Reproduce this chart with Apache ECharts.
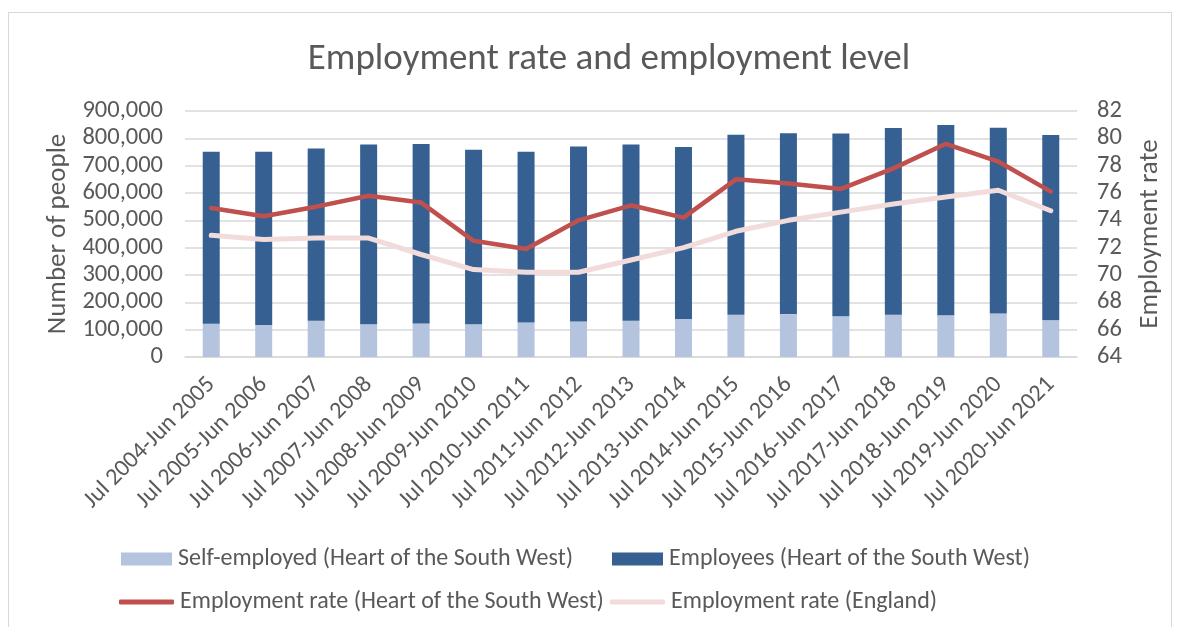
<!DOCTYPE html>
<html>
<head>
<meta charset="utf-8">
<script src="https://cdn.jsdelivr.net/npm/echarts@6/dist/echarts.min.js"></script>
<style>
html,body{margin:0;padding:0;background:#fff;}
#frame{position:absolute;left:8px;top:12px;width:1164px;height:640px;border:1px solid #D9D9D9;box-sizing:border-box;}
#chart{position:absolute;left:0;top:0;width:1182px;height:627px;}
</style>
</head>
<body>
<div id="frame"></div>
<div id="chart"></div>
<script>
const categories = ["Jul 2004-Jun 2005","Jul 2005-Jun 2006","Jul 2006-Jun 2007","Jul 2007-Jun 2008","Jul 2008-Jun 2009","Jul 2009-Jun 2010","Jul 2010-Jun 2011","Jul 2011-Jun 2012","Jul 2012-Jun 2013","Jul 2013-Jun 2014","Jul 2014-Jun 2015","Jul 2015-Jun 2016","Jul 2016-Jun 2017","Jul 2017-Jun 2018","Jul 2018-Jun 2019","Jul 2019-Jun 2020","Jul 2020-Jun 2021"];
const selfEmployed = [122000,117000,133000,120000,123000,120000,126000,130000,133000,139000,155000,157000,149000,155000,153000,159000,134000];
const employees = [629000,634000,630000,657000,656000,638000,625000,640000,644000,629000,658000,662000,669000,683000,696000,680000,678000];
const rateHotSW = [74.9,74.3,75.0,75.8,75.3,72.5,71.9,74.0,75.1,74.2,77.0,76.7,76.3,77.8,79.6,78.3,76.1];
const rateEngland = [72.9,72.6,72.7,72.7,71.5,70.4,70.2,70.2,71.1,72.0,73.2,74.0,74.6,75.2,75.7,76.2,74.7];
const leftTicks = {min:0,max:900000,interval:100000};
const rightTicks = {min:64,max:82,interval:2};
const names = ['Self-employed (Heart of the South West)','Employees (Heart of the South West)',
  'Employment rate (Heart of the South West)','Employment rate (England)'];

const FONT = 'Carlito, "Open Sans", sans-serif';
const TXT = '#595959';
const legTxt = {fontFamily:FONT,fontSize:24,color:TXT,padding:[0,0,0,1]};
function leg(name,left,top,isLine,color){
  const o = {data:[isLine?{name:name,itemStyle:{color:color}}:name],left:left,top:top,padding:0,
    itemWidth:isLine?55:51,itemHeight:isLine?5:13,icon:isLine?'roundRect':'rect',textStyle:legTxt};
  return o;
}
const chart = echarts.init(document.getElementById('chart'));
chart.setOption({
  animation:false,
  textStyle:{fontFamily:FONT,color:TXT},
  title:{text:'Employment rate and employment level',left:604,top:36,textAlign:'center',
    textStyle:{fontFamily:FONT,fontSize:37,fontWeight:'normal',color:TXT}},
  grid:{left:185,right:105,top:111,bottom:270,containLabel:false},
  legend:[
    leg(names[0],121,547,false),
    leg(names[1],612,547,false),
    leg(names[2],119,590,true,'#C0504D'),
    leg(names[3],610,590,true,'#F2DCDB')
  ],
  xAxis:{type:'category',data:categories,
    axisLine:{lineStyle:{color:'#D9D9D9',width:1.5}},axisTick:{show:false},
    axisLabel:{rotate:45,interval:0,fontSize:24,color:TXT,fontFamily:FONT,margin:24}},
  yAxis:[
    {type:'value',min:leftTicks.min,max:leftTicks.max,interval:leftTicks.interval,
     name:'Number of people',nameLocation:'middle',nameGap:104,
     nameTextStyle:{fontSize:27,color:TXT,fontFamily:FONT},
     axisLine:{show:false},axisTick:{show:false},
     splitLine:{lineStyle:{color:'#D9D9D9',width:1.5}},
     axisLabel:{fontSize:24.5,color:TXT,fontFamily:FONT,margin:22,
       formatter:v=>v.toLocaleString('en-US')}},
    {type:'value',min:rightTicks.min,max:rightTicks.max,interval:rightTicks.interval,
     name:'Employment rate',nameLocation:'middle',nameGap:60,
     nameTextStyle:{fontSize:27,color:TXT,fontFamily:FONT},
     axisLine:{show:false},axisTick:{show:false},splitLine:{show:false},
     axisLabel:{fontSize:24.5,color:TXT,fontFamily:FONT,margin:20}}
  ],
  series:[
    {name:names[0],type:'bar',stack:'total',barWidth:17,
     data:selfEmployed,itemStyle:{color:'#B4C3DE'}},
    {name:names[1],type:'bar',stack:'total',barWidth:17,
     data:employees,itemStyle:{color:'#356091'}},
    {name:names[2],type:'line',yAxisIndex:1,data:rateHotSW,
     symbol:'none',lineStyle:{color:'#C0504D',width:4.5,cap:'round',join:'round'},itemStyle:{color:'#C0504D'}},
    {name:names[3],type:'line',yAxisIndex:1,data:rateEngland,
     symbol:'none',lineStyle:{color:'#F2DCDB',width:5,cap:'round',join:'round'},itemStyle:{color:'#F2DCDB'}}
  ]
});
</script>
</body>
</html>
